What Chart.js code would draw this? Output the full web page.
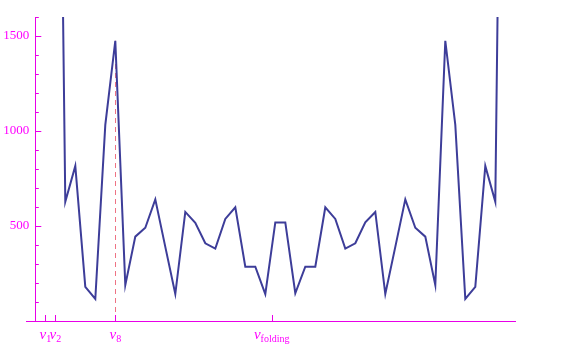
<!DOCTYPE html>
<html>
<head>
<meta charset="utf-8">
<script src="https://cdn.jsdelivr.net/npm/chart.js@4/dist/chart.umd.min.js"></script>
<style>
  body { margin: 0; background: #fff; }
  #wrap { width: 563px; height: 356px; }
</style>
</head>
<body>
<div id="wrap"><canvas id="spectrumChart" width="563" height="356"></canvas></div>
<script>
// Spectrum values (first/last few run off the top)
const frequency = [0, 1, 2, 3, 4, 5, 6, 7, 8, 9, 10, 11, 12, 13, 14, 15, 16, 17, 18, 19, 20, 21, 22, 23, 24,
                   25, 26, 27, 28, 29, 30, 31, 32, 33, 34, 35, 36, 37, 38, 39, 40, 41, 42, 43, 44, 45, 46, 47, 48];
const power = [9000, 6000, 5000, 628, 816, 180, 116, 1032, 1475, 189, 444, 491, 640, 390, 142, 574, 517, 409, 381, 537, 598, 286, 286, 142, 519,
               519, 146, 286, 286, 598, 537, 381, 409, 519, 574, 142, 390, 640, 491, 444, 189, 1475, 1032, 116, 180, 816, 628, 5000, 6000];

const yMajorTicks = [500, 1000, 1500];
const yMinorTicks = [100, 200, 300, 400, 600, 700, 800, 900, 1100, 1200, 1300, 1400, 1600];
const xTickPositions = [1, 2, 8, 23.64];
const xTickSubscripts = ['1', '2', '8', 'folding'];
const markerFrequency = 8;
const markerPower = 1475;

const axisColor = '#e800e8';
const labelColor = '#ff00ff';

const axesPlugin = {
    id: 'mathAxes',
    beforeDatasetsDraw(chart) {
        const ctx = chart.ctx;
        const xs = chart.scales.x, ys = chart.scales.y;
        const x0 = xs.getPixelForValue(0);
        const y0 = ys.getPixelForValue(0);
        ctx.save();

        // dashed marker line at nu_8
        ctx.strokeStyle = 'rgba(235, 90, 110, 0.85)';
        ctx.lineWidth = 1;
        ctx.setLineDash([5, 4]);
        const mx = Math.round(xs.getPixelForValue(markerFrequency)) + 0.5;
        ctx.beginPath();
        ctx.moveTo(mx, y0);
        ctx.lineTo(mx, ys.getPixelForValue(markerPower));
        ctx.stroke();
        ctx.setLineDash([]);

        // axis lines
        ctx.strokeStyle = axisColor;
        ctx.beginPath();
        ctx.moveTo(Math.round(x0) + 0.5, chart.chartArea.top);
        ctx.lineTo(Math.round(x0) + 0.5, y0);
        ctx.moveTo(chart.chartArea.left, Math.round(y0) + 0.5);
        ctx.lineTo(chart.chartArea.right, Math.round(y0) + 0.5);
        ctx.stroke();

        // y ticks
        ctx.beginPath();
        yMajorTicks.forEach(v => {
            const py = Math.round(ys.getPixelForValue(v)) + 0.5;
            ctx.moveTo(x0, py);
            ctx.lineTo(x0 + 6, py);
        });
        yMinorTicks.forEach(v => {
            const py = Math.round(ys.getPixelForValue(v)) + 0.5;
            ctx.moveTo(x0, py);
            ctx.lineTo(x0 + 3.5, py);
        });
        // x ticks
        xTickPositions.forEach(v => {
            const px = Math.round(xs.getPixelForValue(v)) + 0.5;
            ctx.moveTo(px, y0);
            ctx.lineTo(px, y0 - 6);
        });
        ctx.stroke();

        // y labels
        ctx.fillStyle = labelColor;
        ctx.font = '13px "Liberation Serif"';
        ctx.textAlign = 'right';
        ctx.textBaseline = 'middle';
        yMajorTicks.forEach(v => {
            ctx.fillText(String(v), x0 - 6, ys.getPixelForValue(v));
        });

        // x labels: italic nu with subscript
        ctx.textAlign = 'left';
        ctx.textBaseline = 'alphabetic';
        const mainFont = 'italic 15px "Liberation Serif"';
        const subFont = '10px "Liberation Serif"';
        xTickPositions.forEach((v, i) => {
            ctx.font = mainFont;
            const wNu = ctx.measureText('ν').width;
            ctx.font = subFont;
            const wSub = ctx.measureText(xTickSubscripts[i]).width;
            const px = xs.getPixelForValue(v);
            const start = px - (wNu + wSub) / 2;
            ctx.font = mainFont;
            ctx.fillText('ν', start, 339);
            ctx.font = subFont;
            ctx.fillText(xTickSubscripts[i], start + wNu, 342);
        });
        ctx.restore();
    }
};

const points = frequency.map((f, i) => ({ x: f, y: power[i] }));

new Chart(document.getElementById('spectrumChart').getContext('2d'), {
    type: 'line',
    data: {
        datasets: [{
            data: points,
            borderColor: 'rgb(61, 61, 153)',
            borderWidth: 2,
            pointRadius: 0,
            tension: 0,
            clip: 0
        }]
    },
    options: {
        responsive: false,
        animation: false,
        layout: { padding: { left: 26, right: 47, top: 17, bottom: 35 } },
        scales: {
            x: { type: 'linear', min: -0.93, max: 48.07, display: false },
            y: { min: 0, max: 1600, display: false }
        },
        plugins: { legend: { display: false }, tooltip: { enabled: false } }
    },
    plugins: [axesPlugin]
});
</script>
</body>
</html>
